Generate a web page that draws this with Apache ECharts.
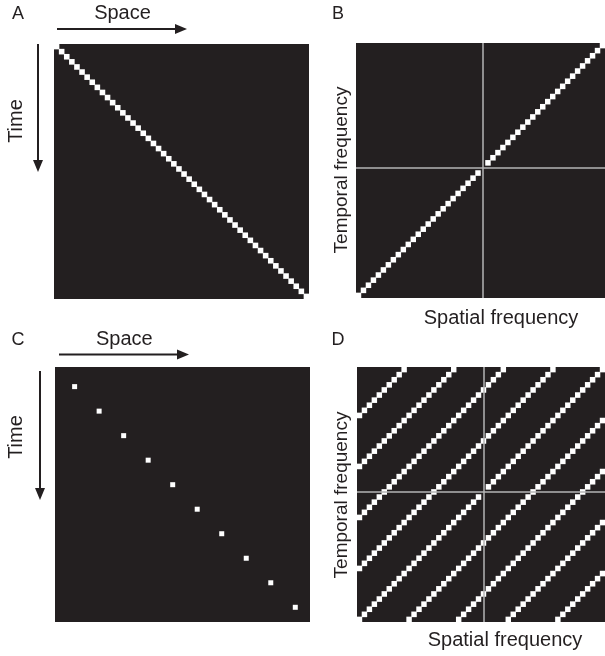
<!DOCTYPE html>
<html>
<head>
<meta charset="utf-8">
<script src="https://cdn.jsdelivr.net/npm/echarts@6/dist/echarts.min.js"></script>
<style>
  html, body { margin: 0; padding: 0; background: #fff; }
  #chart { width: 605px; height: 656px; }
</style>
</head>
<body>
<div id="chart"></div>
<script>
// Grid size (cells per side) of the A, B and D panels
const N = 50;
const cellIndex = Array.from({ length: N }, (_, i) => String(i));

// A: space position of the bar in each time frame (row 0 = first frame, top)
const posA = [0,1,2,3,4,5,6,7,8,9,10,11,12,13,14,15,16,17,18,19,20,21,22,23,24,
              25,26,27,28,29,30,31,32,33,34,35,36,37,38,39,40,41,42,43,44,45,46,47,48,49];

// B: temporal-frequency index (from bottom) for each spatial-frequency column;
// the DC cell (25) is empty
const freqB = [0,1,2,3,4,5,6,7,8,9,10,11,12,13,14,15,16,17,18,19,20,21,22,23,24,
               null,26,27,28,29,30,31,32,33,34,35,36,37,38,39,40,41,42,43,44,45,46,47,48,49];

// C: extent of the space/time axes and the sampled frames (space = time)
const extentC = 52;
const framesC = [4, 9, 14, 19, 24, 29, 34, 39, 44, 49];

// D: temporal-frequency shifts of the aliased copies of the B line
const aliasD = [-40,-30,-20,-10,0,10,20,30,40];

const centre = 25;

// ---- build marks ----
const cellsA = posA.map((x, t) => [x, N - 1 - t, 1]);
const cellsB = [];
freqB.forEach((f, c) => { if (f !== null) cellsB.push([c, f, 1]); });
const dotsC = framesC.map(t => [t, t]);
const cellsD = [];
aliasD.forEach(s => {
  freqB.forEach((f, c) => {
    const base = (f === null) ? c : f;
    const r = base + s;
    if (r < 0 || r >= N) return;
    if (s === 0 && f === null) return;
    cellsD.push([c, r, 1]);
  });
});

const DARK = '#231f20';
const grids = [
  { left: 54,  top: 44,  width: 255, height: 255 },
  { left: 356, top: 43,  width: 255, height: 255 },
  { left: 55,  top: 367, width: 255, height: 255 },
  { left: 357, top: 367, width: 255, height: 255 }
].map(g => Object.assign({ show: true, backgroundColor: DARK, borderWidth: 0, containLabel: false }, g));

const hidden = {
  axisLine: { show: false }, axisTick: { show: false }, axisLabel: { show: false },
  splitLine: { show: false }
};
function catAxis(gi) {
  return Object.assign({ type: 'category', data: cellIndex, gridIndex: gi, boundaryGap: true }, hidden);
}
function valAxis(gi, inverse) {
  return Object.assign({ type: 'value', gridIndex: gi, min: 0, max: extentC, inverse: !!inverse }, hidden);
}

function heat(gi, data) {
  return {
    type: 'heatmap', xAxisIndex: gi, yAxisIndex: gi, data: data,
    itemStyle: { color: '#ffffff' }, silent: true, animation: false
  };
}

function crossLines(gi) {
  return {
    type: 'line', xAxisIndex: gi, yAxisIndex: gi, data: [], silent: true,
    markLine: {
      symbol: 'none', silent: true, animation: false,
      label: { show: false },
      lineStyle: { color: '#b4b4b4', width: 1.5, type: 'solid' },
      data: [{ xAxis: String(centre) }, { yAxis: String(centre) }]
    }
  };
}

const FONT = '"Liberation Sans", Arial, Helvetica, sans-serif';
const TXT = '#231f20';
function label(text, x, y, size, rot) {
  return {
    type: 'text', x: x, y: y, rotation: rot || 0,
    style: { text: text, fill: TXT, font: size + 'px ' + FONT, align: 'center', verticalAlign: 'middle' },
    silent: true
  };
}
function hArrow(x1, x2, y) {
  return [
    { type: 'line', shape: { x1: x1, y1: y, x2: x2 - 9, y2: y }, style: { stroke: TXT, lineWidth: 2 }, silent: true },
    { type: 'polygon', shape: { points: [[x2 - 12, y - 5], [x2, y], [x2 - 12, y + 5]] }, style: { fill: TXT }, silent: true }
  ];
}
function vArrow(x, y1, y2) {
  return [
    { type: 'line', shape: { x1: x, y1: y1, x2: x, y2: y2 - 9 }, style: { stroke: TXT, lineWidth: 2 }, silent: true },
    { type: 'polygon', shape: { points: [[x - 5, y2 - 12], [x, y2], [x + 5, y2 - 12]] }, style: { fill: TXT }, silent: true }
  ];
}

const graphics = [].concat(
  [label('A', 18, 14.5, 18), label('Space', 122.5, 13.5, 20)],
  hArrow(57, 187, 29),
  vArrow(38, 44, 172),
  [label('Time', 16, 121, 20, Math.PI / 2)],
  [label('B', 338, 14.5, 18), label('Temporal frequency', 342, 170, 19, Math.PI / 2),
   label('Spatial frequency', 501, 318, 20)],
  [label('C', 18, 340.5, 18), label('Space', 124.3, 339.5, 20)],
  hArrow(59, 189, 354.5),
  vArrow(40, 371, 500),
  [label('Time', 16, 437, 20, Math.PI / 2)],
  [label('D', 338, 340.5, 18), label('Temporal frequency', 342, 495, 19, Math.PI / 2),
   label('Spatial frequency', 505, 640, 20)]
);

const chart = echarts.init(document.getElementById('chart'), null, { renderer: 'canvas' });
chart.setOption({
  animation: false,
  backgroundColor: '#ffffff',
  grid: grids,
  xAxis: [catAxis(0), catAxis(1), valAxis(2), catAxis(3)],
  yAxis: [catAxis(0), catAxis(1), valAxis(2, true), catAxis(3)],
  series: [
    heat(0, cellsA), heat(1, cellsB),
    {
      type: 'scatter', xAxisIndex: 2, yAxisIndex: 2, data: dotsC,
      symbol: 'rect', symbolSize: 5, itemStyle: { color: '#ffffff', opacity: 1 },
      silent: true, animation: false
    },
    heat(3, cellsD),
    crossLines(1), crossLines(3)
  ],
  graphic: graphics
});
</script>
</body>
</html>
